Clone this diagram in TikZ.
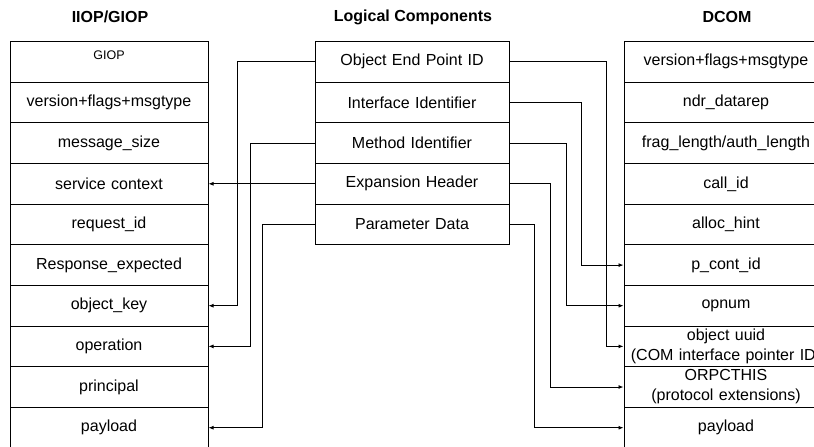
\documentclass[tikz,border=0pt]{standalone}
\usepackage{fontspec}
\setmainfont{Liberation Sans}
\usetikzlibrary{arrows.meta}
\begin{document}
\begin{tikzpicture}[x=1pt,y=-1pt,
  cell/.style={draw, line width=1pt, minimum height=40.65pt, inner sep=0pt,
    align=center, font=\fontsize{16}{20}\selectfont},
  lcell/.style={cell, text width=198pt},
  mcell/.style={cell, text width=194pt},
  rcell/.style={cell, text width=204pt},
  head/.style={font=\fontsize{16}{20}\selectfont\bfseries, inner sep=0pt},
  conn/.style={line width=0.9pt, -{Latex[length=5pt,width=4pt]}}]
\useasboundingbox (0,0) rectangle (814,447);
\clip (0,0) rectangle (814,447);

% column headings
\node[head] (hl) at (110,17) {IIOP/GIOP};
\node[head] (hm) at (413,17) {Logical Components};
\node[head] (hr) at (727,17) {DCOM};

% IIOP/GIOP message layout
\node[lcell, label={[font=\fontsize{12.5}{15}\selectfont, anchor=north, inner sep=0pt, yshift=-10pt]north:GIOP}] (l0) at (109,61.8) {};
\node[lcell] (l1) at (109,102.5) {version+flags+msgtype};
\node[lcell] (l2) at (109,143.1) {message\_size};
\node[lcell] (l3) at (109,183.8) {service context};
\node[lcell] (l4) at (109,224.4) {request\_id};
\node[lcell] (l5) at (109,265.1) {Response\_expected};
\node[lcell] (l6) at (109,305.7) {object\_key};
\node[lcell] (l7) at (109,346.4) {operation};
\node[lcell] (l8) at (109,387.0) {principal};
\node[lcell] (l9) at (109,427.7) {payload};

% logical components
\node[mcell] (m0) at (412,61.8) {Object End Point ID};
\node[mcell] (m1) at (412,102.5) {Interface Identifier};
\node[mcell] (m2) at (412,143.1) {Method Identifier};
\node[mcell] (m3) at (412,183.8) {Expansion Header};
\node[mcell] (m4) at (412,224.4) {Parameter Data};

% DCOM message layout
\node[rcell] (r0) at (726,61.8) {version+flags+msgtype};
\node[rcell] (r1) at (726,102.5) {ndr\_datarep};
\node[rcell] (r2) at (726,143.1) {frag\_length/auth\_length};
\node[rcell] (r3) at (726,183.8) {call\_id};
\node[rcell] (r4) at (726,224.4) {alloc\_hint};
\node[rcell] (r5) at (726,265.1) {p\_cont\_id};
\node[rcell] (r6) at (726,305.7) {opnum};
\node[rcell] (r7) at (726,346.4) {object uuid\\(COM interface pointer ID)};
\node[rcell] (r8) at (726,387.0) {ORPCTHIS\\(protocol extensions)};
\node[rcell] (r9) at (726,427.7) {payload};

% routing columns
\coordinate (a0) at (237,0);
\coordinate (a2) at (250,0);
\coordinate (a4) at (262,0);
\coordinate (b0) at (606,0);
\coordinate (b1) at (581,0);
\coordinate (b2) at (566,0);
\coordinate (b3) at (550,0);
\coordinate (b4) at (534,0);

% mapping to IIOP/GIOP
\draw[conn] (m0.west) -- (m0.west -| a0) |- (l6.east);
\draw[conn] (m2.west) -- (m2.west -| a2) |- (l7.east);
\draw[conn] (m3.west) -- (l3.east);
\draw[conn] (m4.west) -- (m4.west -| a4) |- (l9.east);

% mapping to DCOM
\draw[conn] (m0.east) -- (m0.east -| b0) |- (r7.west);
\draw[conn] (m1.east) -- (m1.east -| b1) |- (r5.west);
\draw[conn] (m2.east) -- (m2.east -| b2) |- (r6.west);
\draw[conn] (m3.east) -- (m3.east -| b3) |- (r8.west);
\draw[conn] (m4.east) -- (m4.east -| b4) |- (r9.west);
\end{tikzpicture}
\end{document}
